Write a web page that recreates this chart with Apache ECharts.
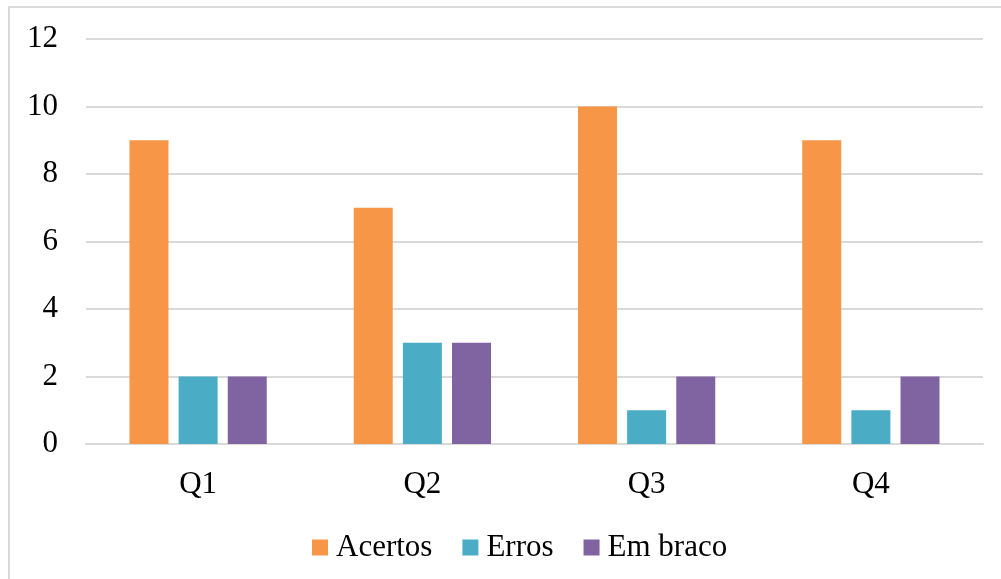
<!DOCTYPE html>
<html>
<head>
<meta charset="utf-8">
<script src="https://cdn.jsdelivr.net/npm/echarts@6/dist/echarts.min.js"></script>
<style>
html,body{margin:0;padding:0;background:#fff;}
#chart{width:1001px;height:579px;}
</style>
</head>
<body>
<div id="chart"></div>
<script>
const categories = ['Q1', 'Q2', 'Q3', 'Q4'];
const acertos = [9, 7, 10, 9];
const erros = [2, 3, 1, 1];
const emBranco = [2, 3, 2, 2];
const yTicks = [0, 2, 4, 6, 8, 10, 12];

const FONT = '"Liberation Serif", "Times New Roman", serif';
const chart = echarts.init(document.getElementById('chart'), null, {renderer: 'canvas'});
chart.setOption({
  animation: false,
  backgroundColor: '#fff',
  textStyle: {fontFamily: FONT},
  graphic: [{
    type: 'rect',
    shape: {x: 9, y: 7, width: 1010, height: 600},
    style: {fill: 'none', stroke: '#d9d9d9', lineWidth: 2},
    silent: true
  }],
  grid: {left: 86, right: 18, top: 39, bottom: 135, containLabel: false},
  legend: {
    left: 307, top: 527,
    itemWidth: 16, itemHeight: 16, itemGap: 30,
    icon: 'rect',
    textStyle: {fontFamily: FONT, fontSize: 31, color: '#000', padding: [0, 0, 0, 3]},
    data: ['Acertos', 'Erros', 'Em braco']
  },
  xAxis: {
    type: 'category',
    data: categories,
    axisLine: {lineStyle: {color: '#d9d9d9', width: 2}},
    axisTick: {show: false},
    axisLabel: {fontFamily: FONT, fontSize: 31, color: '#000', margin: 25}
  },
  yAxis: {
    type: 'value',
    min: yTicks[0], max: yTicks[yTicks.length - 1], interval: 2,
    axisLine: {show: false},
    axisTick: {show: false},
    splitLine: {lineStyle: {color: '#d9d9d9', width: 2}},
    axisLabel: {fontFamily: FONT, fontSize: 31, color: '#000', margin: 28}
  },
  series: [
    {name: 'Acertos', type: 'bar', data: acertos, itemStyle: {color: '#F79646'}, barWidth: 39, barGap: '26%'},
    {name: 'Erros', type: 'bar', data: erros, itemStyle: {color: '#4BACC6'}, barWidth: 39, barGap: '26%'},
    {name: 'Em braco', type: 'bar', data: emBranco, itemStyle: {color: '#8064A2'}, barWidth: 39, barGap: '26%'}
  ]
});
</script>
</body>
</html>
